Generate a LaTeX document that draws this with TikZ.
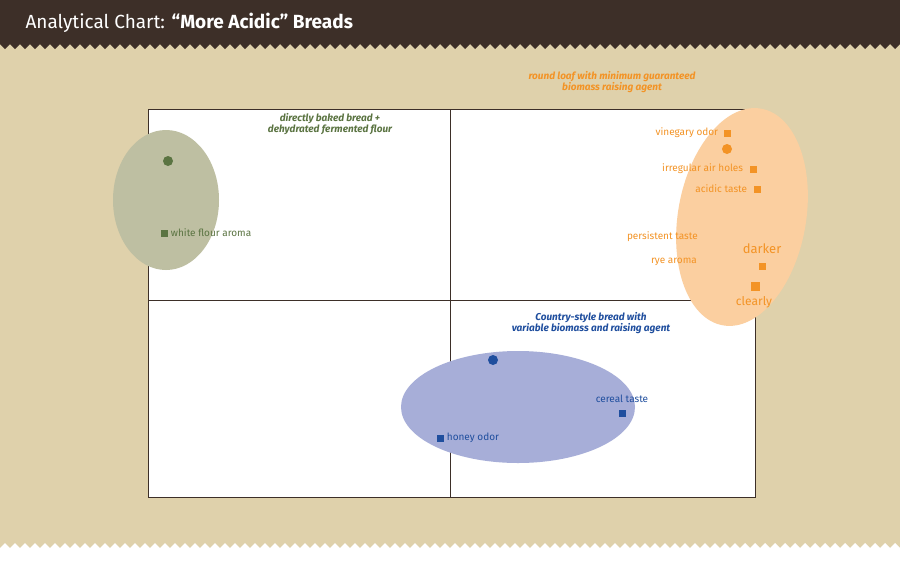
\documentclass[tikz,border=0pt]{standalone}
\usepackage{fontspec}
\setmainfont{Fira Sans}
\usetikzlibrary{positioning}
\definecolor{bgtan}{HTML}{DFD1AB}
\definecolor{hdrbrown}{HTML}{3D2F28}
\definecolor{grn}{HTML}{5B7442}
\definecolor{grnfill}{HTML}{BEBFA2}
\definecolor{org}{HTML}{F39325}
\definecolor{orgfill}{HTML}{FBCFA0}
\definecolor{blu}{HTML}{1F4E9E}
\definecolor{blufill}{HTML}{A7AED8}
\tikzset{
  sq/.style={fill=#1, minimum size=7pt, inner sep=0pt},
  dot/.style={circle, fill=#1, minimum size=10pt, inner sep=0pt},
  lbl/.style={text=#1, font=\fontsize{10}{12}\selectfont, inner sep=1pt},
  grouptitle/.style={text=#1, font=\fontsize{10}{11}\selectfont\bfseries\itshape, align=center}
}
\begin{document}
\begin{tikzpicture}[x=1pt,y=-1pt]
    \useasboundingbox (0,0) rectangle (900,576);
    % background and header
    \fill[bgtan] (0,0) rectangle (900,548);
    \fill[hdrbrown] (0,0) rectangle (900,44);
    \fill[hdrbrown] (0,44) \foreach \i in {0,...,89} {-- (\i*10+5,49) -- (\i*10+10,44)} -- (900,44) -- cycle;
    \fill[white] (0,548) \foreach \i in {0,...,89} {-- (\i*10+5,543) -- (\i*10+10,548)} -- (900,576) -- (0,576) -- cycle;
    \node[anchor=west, text=white, font=\fontsize{19}{22}\selectfont] (title) at (22,23)
        {Analytical Chart: \textbf{“More Acidic” Breads}};

    % chart frame
    \fill[white] (148,109) rectangle (755,497);
    \draw[hdrbrown, line width=0.8pt] (148,109) rectangle (755,497);
    \draw[hdrbrown, line width=0.8pt] (450,109) -- (450,497);
    \draw[hdrbrown, line width=0.8pt] (148,300) -- (755,300);

    % groups
    \fill[grnfill] (166,200) ellipse [x radius=53, y radius=70];
    \fill[orgfill, rotate around={-10:(742,217)}] (742,217) ellipse [x radius=64, y radius=110];
    \fill[blufill] (518,407) ellipse [x radius=117, y radius=56];

    % green
    \node[grouptitle=grn] (gtitle) at (330,124) {directly baked bread +\\dehydrated fermented flour};
    \node[dot=grn] (gdot) at (168,161) {};
    \node[sq=grn] (gsq) at (164,233) {};
    \node[lbl=grn, right=2pt of gsq] (gflour) {white flour aroma};

    % orange
    \node[grouptitle=org] (otitle) at (612,82) {round loaf with minimum guaranteed\\biomass raising agent};
    \node[dot=org] (odot) at (727,149) {};
    \node[sq=org] (ovin) at (727,133) {};
    \node[lbl=org, left=4pt of ovin] (ovinl) {vinegary odor};
    \node[sq=org] (oair) at (753,169) {};
    \node[lbl=org, left=5pt of oair] (oairl) {irregular air holes};
    \node[sq=org] (oacid) at (757,189) {};
    \node[lbl=org, left=5pt of oacid] (oacidl) {acidic taste};
    \node[lbl=org, anchor=east] (opers) at (699,237) {persistent taste};
    \node[lbl=org, anchor=east] (orye) at (698,262) {rye aroma};
    \node[sq=org] (odark) at (762,266) {};
    \node[lbl=org, font=\fontsize{13}{15}\selectfont] (odarkl) at (762,249) {darker};
    \node[sq=org, minimum size=9pt] (oclear) at (755,286) {};
    \node[lbl=org, font=\fontsize{12}{14}\selectfont] (oclearl) at (754,302) {clearly};

    % blue
    \node[grouptitle=blu] (btitle) at (591,323) {Country-style bread with\\variable biomass and raising agent};
    \node[dot=blu] (bdot) at (493,360) {};
    \node[sq=blu] (bcer) at (622,413) {};
    \node[lbl=blu] (bcerl) at (622,399) {cereal taste};
    \node[sq=blu] (bhon) at (440,438) {};
    \node[lbl=blu, right=2pt of bhon] (bhonl) {honey odor};
\end{tikzpicture}
\end{document}
